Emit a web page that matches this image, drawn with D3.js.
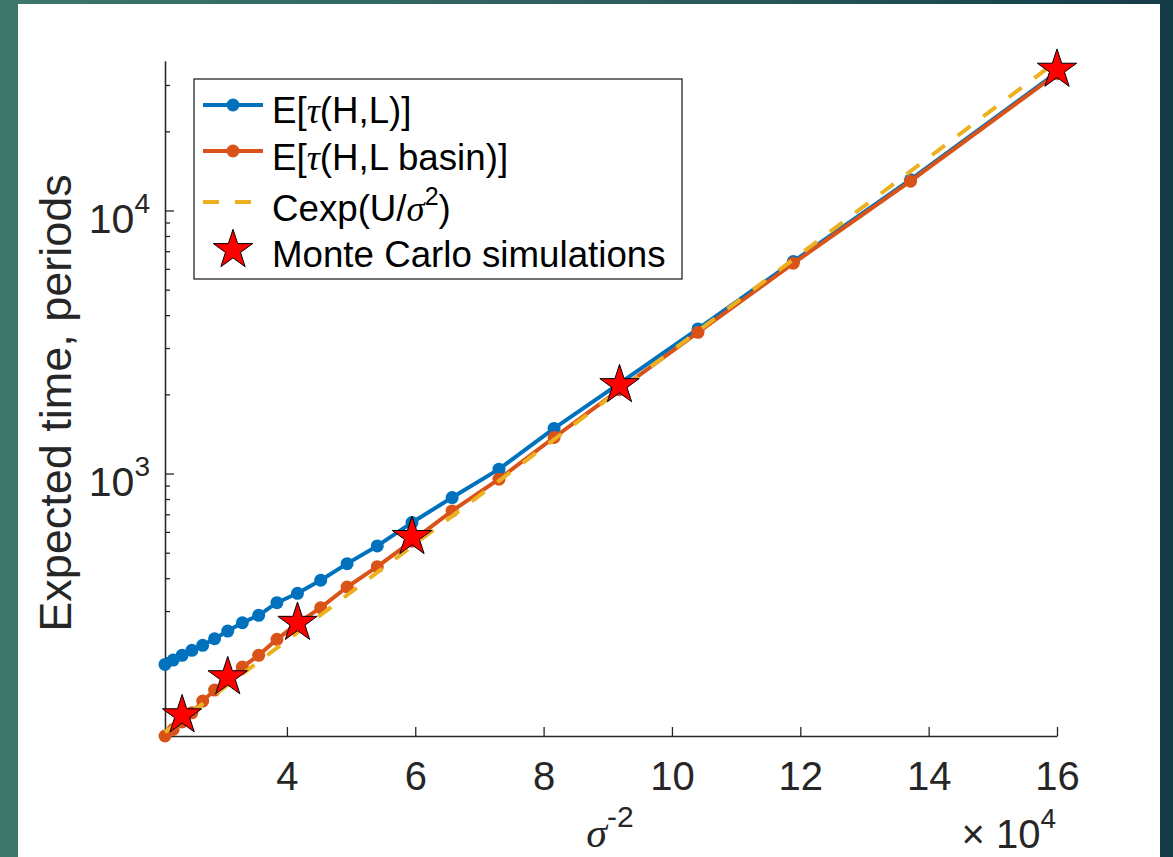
<!DOCTYPE html>
<html lang="en">
<head>
<meta charset="UTF-8">
<script src="https://d3js.org/d3.v7.min.js"></script>
<title>Expected time</title>
<style>
  body { margin: 0; }
  svg { display: block; }
  text { font-family: "Liberation Sans", Arial, Helvetica, sans-serif; fill: #262626; }
</style>
</head>
<body>
<svg></svg>
<script>
// sigma^-2, in units of 10^4
const sigmaInvSq = [2.1004, 2.2277, 2.3669, 2.5195, 2.6874, 2.8727, 3.0779, 3.3058, 3.5600, 3.8447,
                    4.1649, 4.5269, 4.9383, 5.4083, 5.9488, 6.5746, 7.3046, 8.1633, 9.1827, 10.4058,
                    11.8906, 13.7174, 16.0];
// E[tau(H,L)]
const tauHL = [188.1, 195.4, 203.6, 212.7, 222.3, 235.5, 251.9, 270.9, 289.1, 322.8,
               350.5, 392.9, 454.4, 530.6, 651, 810.4, 1039, 1484, 2200, 3545,
               6395, 13090, 33500];
// E[tau(H,L basin)]
const tauBasin = [100.5, 106.4, 113.7, 123.1, 136.4, 150.2, 166.4, 183.8, 203.6, 234.2,
                  269.3, 309.0, 370.4, 442.6, 552.9, 721.1, 952.1, 1371, 2084, 3441,
                  6300, 12930, 33100];
// C exp(U / sigma^2)
const fitX = [2.1004, 3.5600, 5.9488, 9.1827, 11.8906, 16.0];
const fitY = [103.9, 192.6, 528.8, 2073, 6514, 37010];
// Monte Carlo simulations
const mcX = [2.3669, 3.0779, 4.1649, 5.9488, 9.1827, 16.0];
const mcY = [120.6, 168.3, 270.9, 574.1, 2170, 34320];

const xTickValues = [4, 6, 8, 10, 12, 14, 16];
const yMajorTicks = [1000, 10000];
const yMinorTicks = [200, 300, 400, 500, 600, 700, 800, 900,
                     2000, 3000, 4000, 5000, 6000, 7000, 8000, 9000, 20000, 30000];

const W = 1173, H = 857;
const blue = "#0072BD", orange = "#D95319", yellow = "#EDB120";
const axisColor = "#262626";

const svg = d3.select("svg").attr("width", W).attr("height", H);

// slide background
const defs = svg.append("defs");
const grad = defs.append("linearGradient").attr("id", "bg").attr("x1", 0).attr("x2", 1).attr("y1", 0).attr("y2", 0);
grad.append("stop").attr("offset", "0%").attr("stop-color", "#3d766b");
grad.append("stop").attr("offset", "55%").attr("stop-color", "#2c5d5d");
grad.append("stop").attr("offset", "100%").attr("stop-color", "#143c48");
svg.append("rect").attr("width", W).attr("height", H).attr("fill", "url(#bg)");
svg.append("rect").attr("x", 18).attr("y", 4).attr("width", 1142).attr("height", H - 4).attr("fill", "white");

const allY = tauHL.concat(tauBasin, fitY, mcY);

const x = d3.scaleLinear()
    .domain([d3.min(sigmaInvSq), d3.max(sigmaInvSq)])
    .range([165, 1057]);

const y = d3.scaleLog()
    .domain([d3.min(allY), d3.max(allY)])
    .range([736, 61]);

// x axis
const xAxis = d3.axisBottom(x)
    .tickValues(xTickValues)
    .tickFormat(d3.format("d"))
    .tickSizeInner(-9)
    .tickSizeOuter(0)
    .tickPadding(26);

const gx = svg.append("g")
    .attr("transform", "translate(0,736)")
    .attr("color", axisColor)
    .call(xAxis);
gx.attr("font-size", 40).attr("font-family", null);
gx.selectAll("path, line").attr("stroke-width", 1.3);

// y axis, minor ticks first
const gyMinor = svg.append("g")
    .attr("transform", "translate(165,0)")
    .attr("color", axisColor)
    .call(d3.axisLeft(y).tickValues(yMinorTicks).tickFormat("").tickSizeInner(-5).tickSizeOuter(0));
gyMinor.selectAll("path, line").attr("stroke-width", 1.3);

const gy = svg.append("g")
    .attr("transform", "translate(165,0)")
    .attr("color", axisColor)
    .call(d3.axisLeft(y).tickValues(yMajorTicks).tickFormat("").tickSizeInner(-9).tickSizeOuter(0).tickPadding(15));
gy.attr("font-size", 41).attr("font-family", null);
gy.selectAll("path, line").attr("stroke-width", 1.3);
gy.selectAll(".tick text")
    .attr("dy", 22)
    .each(function(d) {
        const t = d3.select(this);
        t.text("10");
        t.append("tspan").attr("font-size", 28).attr("dy", -20).text(Math.round(Math.log10(d)));
    });

// axis labels
svg.append("text")
    .attr("transform", "translate(71,403) rotate(-90)")
    .attr("text-anchor", "middle")
    .attr("font-size", 45)
    .text("Expected time, periods");

const xl = svg.append("text")
    .attr("x", 610).attr("y", 847)
    .attr("text-anchor", "middle")
    .attr("font-size", 42);
xl.append("tspan").attr("font-family", "Liberation Serif, Times New Roman, serif").attr("font-style", "italic").text("σ");
xl.append("tspan").attr("font-size", 30).attr("dy", -20).text("-2");

const xm = svg.append("text")
    .attr("x", 1056).attr("y", 848)
    .attr("text-anchor", "end")
    .attr("font-size", 40);
xm.append("tspan").text("× 10");
xm.append("tspan").attr("font-size", 28).attr("dy", -20).text("4");

// series
const line = d3.line().x(d => x(d[0])).y(d => y(d[1]));
const blueData = sigmaInvSq.map((v, i) => [v, tauHL[i]]);
const orangeData = sigmaInvSq.map((v, i) => [v, tauBasin[i]]);
const fitData = fitX.map((v, i) => [v, fitY[i]]);
const mcData = mcX.map((v, i) => [v, mcY[i]]);

[[blueData, blue], [orangeData, orange]].forEach(function(s) {
    svg.append("path")
        .datum(s[0])
        .attr("d", line)
        .attr("fill", "none")
        .attr("stroke", s[1])
        .attr("stroke-width", 4)
        .attr("stroke-linejoin", "round");
    svg.append("g").selectAll("circle")
        .data(s[0])
        .enter()
        .append("circle")
        .attr("cx", d => x(d[0]))
        .attr("cy", d => y(d[1]))
        .attr("r", 6.5)
        .attr("fill", s[1]);
});

svg.append("path")
    .datum(fitData)
    .attr("d", line)
    .attr("fill", "none")
    .attr("stroke", yellow)
    .attr("stroke-width", 4)
    .attr("stroke-dasharray", "16,16");

const star = d3.symbol().type(d3.symbolStar).size(480);
svg.append("g").selectAll("path")
    .data(mcData)
    .enter()
    .append("path")
    .attr("d", star)
    .attr("transform", d => "translate(" + x(d[0]) + "," + y(d[1]) + ")")
    .attr("fill", "#FF0000")
    .attr("stroke", "black")
    .attr("stroke-width", 1);

// legend
const lg = svg.append("g");
lg.append("rect")
    .attr("x", 194).attr("y", 79).attr("width", 488).attr("height", 200)
    .attr("fill", "white").attr("stroke", axisColor).attr("stroke-width", 1.3);

const rows = [105, 151, 202, 250];
const baselines = [123, 170, 221, 267];

[[blue, 0], [orange, 1]].forEach(function(r) {
    lg.append("line").attr("x1", 203).attr("x2", 263).attr("y1", rows[r[1]]).attr("y2", rows[r[1]])
        .attr("stroke", r[0]).attr("stroke-width", 4);
    lg.append("circle").attr("cx", 233).attr("cy", rows[r[1]]).attr("r", 6.5).attr("fill", r[0]);
});
lg.append("line").attr("x1", 203).attr("x2", 263).attr("y1", rows[2]).attr("y2", rows[2])
    .attr("stroke", yellow).attr("stroke-width", 4).attr("stroke-dasharray", "16,16");
lg.append("path").attr("d", star).attr("transform", "translate(233," + rows[3] + ")")
    .attr("fill", "#FF0000").attr("stroke", "black").attr("stroke-width", 1);

const greek = "Liberation Serif, Times New Roman, serif";
function legendText(i) {
    return lg.append("text").attr("x", 272).attr("y", baselines[i]).attr("font-size", 36.7).style("fill", "black");
}
let t = legendText(0);
t.append("tspan").text("E[");
t.append("tspan").attr("font-family", greek).attr("font-style", "italic").text("τ");
t.append("tspan").text("(H,L)]");

t = legendText(1);
t.append("tspan").text("E[");
t.append("tspan").attr("font-family", greek).attr("font-style", "italic").text("τ");
t.append("tspan").text("(H,L basin)]");

t = legendText(2);
t.append("tspan").text("Cexp(U/");
t.append("tspan").attr("font-family", greek).attr("font-style", "italic").text("σ");
t.append("tspan").attr("font-size", 25).attr("dy", -16).text("2");
t.append("tspan").attr("dy", 16).text(")");

t = legendText(3);
t.text("Monte Carlo simulations");
</script>
</body>
</html>
